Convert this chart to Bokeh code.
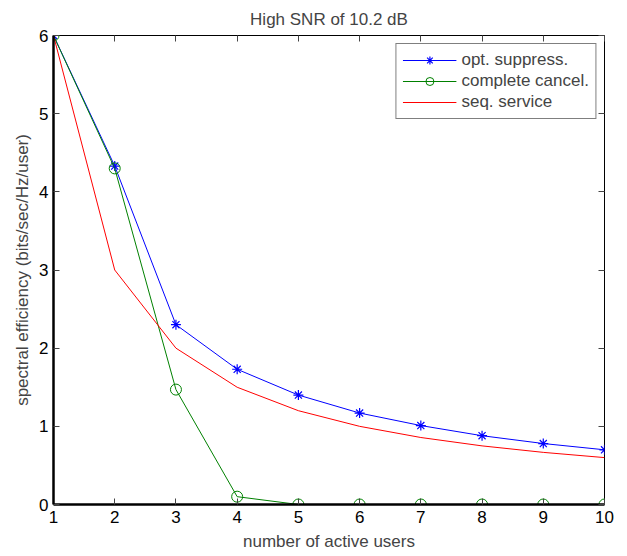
from bokeh.plotting import figure
from bokeh.models import LinearAxis, Range1d, FixedTicker, Legend, LegendItem
from bokeh.embed import file_html
from bokeh.resources import INLINE

users = [1, 2, 3, 4, 5, 6, 7, 8, 9, 10]
opt_suppress = [6.0, 4.33, 2.30, 1.73, 1.40, 1.17, 1.01, 0.88, 0.78, 0.70]
complete_cancel = [6.0, 4.30, 1.47, 0.10, 0.0, 0.0, 0.0, 0.0, 0.0, 0.0]
seq_service = [6.0, 3.0, 2.0, 1.5, 1.2, 1.0, 0.857, 0.75, 0.667, 0.60]
x_ticks = [1, 2, 3, 4, 5, 6, 7, 8, 9, 10]
y_ticks = [0, 1, 2, 3, 4, 5, 6]

FONT = "Liberation Sans"

p = figure(width=619, height=556, output_backend="svg", toolbar_location=None,
           x_range=Range1d(1, 10), y_range=Range1d(0, 6),
           title="High SNR of 10.2 dB",
           min_border_left=53, min_border_right=15, min_border_top=35, min_border_bottom=52)
p.title.align = "center"
p.title.text_font = FONT
p.title.text_font_size = "17px"
p.title.text_font_style = "normal"
p.title.standoff = 14
p.grid.visible = False
p.outline_line_color = "black"
p.outline_line_width = 1
p.background_fill_color = "white"
p.border_fill_color = "white"

for ax in (p.xaxis[0], p.yaxis[0]):
    ax.major_tick_in = 6
    ax.major_tick_out = 0
    ax.minor_tick_in = 0
    ax.minor_tick_out = 0
    ax.axis_line_width = 2.5
    ax.axis_line_color = "black"
    ax.major_tick_line_color = "#444444"
    ax.major_label_text_font = FONT
    ax.major_label_text_font_size = "17px"
    ax.major_label_text_color = "black"
    ax.axis_label_text_font = FONT
    ax.axis_label_text_font_size = "17px"
    ax.axis_label_text_font_style = "normal"

p.xaxis[0].major_label_standoff = 6
p.xaxis[0].axis_label_standoff = 6
p.yaxis[0].major_label_standoff = 5
p.yaxis[0].axis_label_standoff = 4

p.xaxis[0].ticker = FixedTicker(ticks=x_ticks)
p.yaxis[0].ticker = FixedTicker(ticks=y_ticks)
p.xaxis[0].axis_label = "number of active users"
p.yaxis[0].axis_label = "spectral efficiency (bits/sec/Hz/user)"

top = LinearAxis(ticker=FixedTicker(ticks=x_ticks), major_label_text_color=None,
                 major_label_text_font_size="1px",
                 major_tick_in=6, major_tick_out=0, minor_tick_in=0, minor_tick_out=0,
                 axis_line_color=None, major_tick_line_color="#444444", major_label_standoff=0)
right = LinearAxis(ticker=FixedTicker(ticks=y_ticks), major_label_text_color=None,
                   major_label_text_font_size="1px",
                   major_tick_in=6, major_tick_out=0, minor_tick_in=0, minor_tick_out=0,
                   axis_line_color=None, major_tick_line_color="#444444", major_label_standoff=0)
p.add_layout(top, "above")
p.add_layout(right, "right")

blue = "#0000ff"
green = "#008000"
red = "#ff0000"

l1 = p.line(users, opt_suppress, color=blue, line_width=1)
m1 = p.scatter(users, opt_suppress, marker="asterisk", size=10, color=blue, line_width=1.2)
l2 = p.line(users, complete_cancel, color=green, line_width=1)
m2 = p.scatter(users, complete_cancel, marker="circle", size=11, line_color=green,
               fill_color=None, line_width=1)
l3 = p.line(users, seq_service, color=red, line_width=1)

legend = Legend(items=[
    LegendItem(label="opt. suppress.", renderers=[l1, m1]),
    LegendItem(label="complete cancel.", renderers=[l2, m2]),
    LegendItem(label="seq. service", renderers=[l3]),
], location="top_right")
legend.border_line_color = "black"
legend.border_line_width = 1
legend.background_fill_alpha = 1
legend.label_text_font = FONT
legend.label_text_font_size = "17px"
legend.glyph_width = 54
legend.glyph_height = 20
legend.label_height = 20
legend.spacing = 1
legend.padding = 6
legend.margin = 8
legend.label_standoff = 5
p.add_layout(legend, "center")

open("out.html", "w").write(file_html(p, INLINE))
